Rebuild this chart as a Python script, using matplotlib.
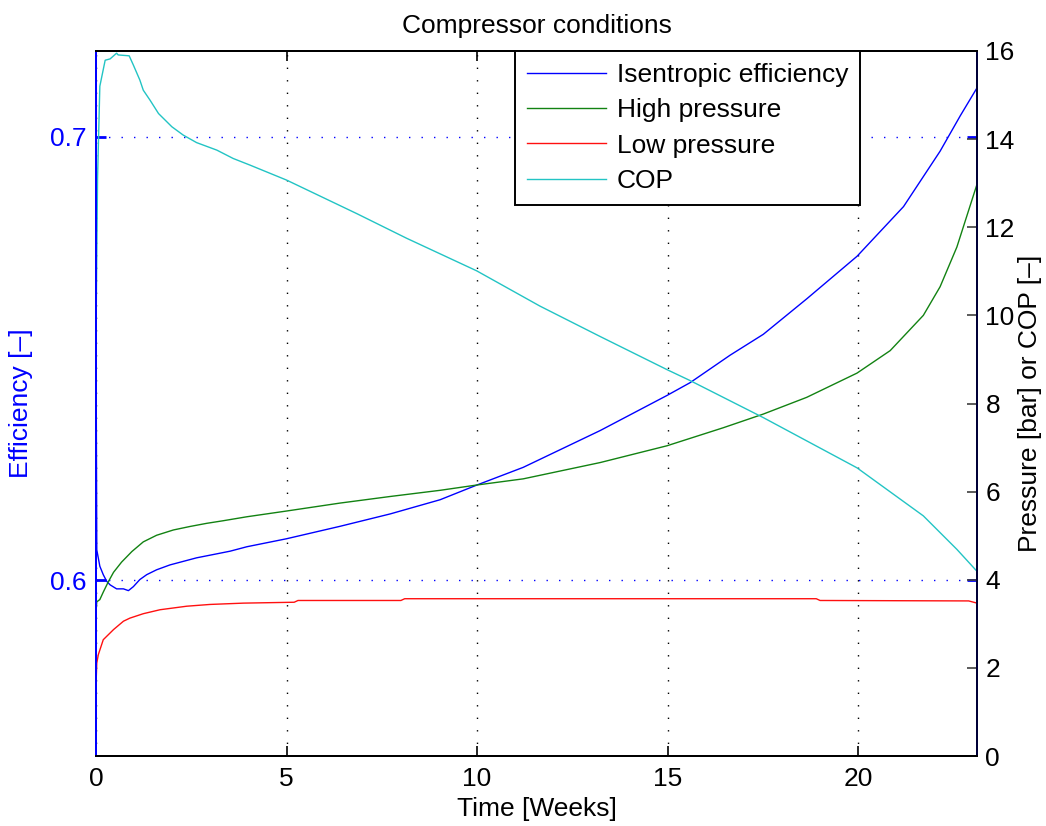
import matplotlib
matplotlib.use('Agg')
import matplotlib.pyplot as plt

plt.rcParams['font.family'] = ['Liberation Sans', 'DejaVu Sans']

# efficiency (left axis)
eff_t = [0, 0.02, 0.1, 0.19, 0.28, 0.37, 0.54, 0.72, 0.85, 0.98, 1.15, 1.33, 1.59, 1.94,
         2.29, 2.64, 3.17, 3.52, 3.96, 5.0, 6.4, 7.72, 9.03, 9.99, 11.21, 13.23, 14.98,
         15.59, 16.64, 17.51, 18.65, 19.97, 21.19, 22.15, 22.68, 23.12]
eff = [0.655, 0.6069, 0.6032, 0.6013, 0.5998, 0.599, 0.5981, 0.5981, 0.5977, 0.5986,
       0.6002, 0.6013, 0.6024, 0.6035, 0.6043, 0.6051, 0.606, 0.6066, 0.6076, 0.6094,
       0.6122, 0.615, 0.6182, 0.6215, 0.6255, 0.6338, 0.6417, 0.6446, 0.6508, 0.6555,
       0.6635, 0.6731, 0.6843, 0.6968, 0.7048, 0.7111]

# high pressure [bar]
hp_t = [0, 0.02, 0.1, 0.19, 0.32, 0.46, 0.67, 0.94, 1.24, 1.59, 2.03, 2.47, 2.9, 3.34,
        3.96, 5.0, 6.4, 7.72, 9.03, 9.99, 11.21, 13.23, 14.98, 16.46, 17.51, 18.65,
        19.97, 20.84, 21.71, 22.15, 22.59, 23.12]
hp = [3.28, 3.5, 3.55, 3.72, 3.95, 4.17, 4.4, 4.64, 4.86, 5.01, 5.13, 5.21, 5.28, 5.34,
      5.43, 5.56, 5.74, 5.89, 6.03, 6.15, 6.29, 6.66, 7.04, 7.45, 7.76, 8.14, 8.69,
      9.2, 10.0, 10.65, 11.55, 12.98]

# low pressure [bar]
lp_t = [0, 0.02, 0.06, 0.19, 0.46, 0.72, 0.89, 1.24, 1.68, 2.38, 2.99, 3.87, 5.2, 5.3,
        8.0, 8.1, 18.9, 19.0, 22.9, 23.12]
lp = [1.62, 2.11, 2.3, 2.64, 2.87, 3.06, 3.13, 3.23, 3.32, 3.4, 3.44, 3.47, 3.49, 3.53,
      3.53, 3.57, 3.57, 3.53, 3.52, 3.47]

# COP
cop_t = [0, 0.04, 0.1, 0.24, 0.37, 0.54, 0.58, 0.87, 0.98, 1.15, 1.24, 1.42, 1.64, 1.99,
         2.29, 2.64, 3.17, 3.6, 4.04, 5.0, 6.84, 8.15, 9.99, 11.65, 13.23, 14.98, 15.59,
         17.51, 19.97, 21.71, 22.59, 23.12]
cop = [9.6, 13.1, 15.2, 15.79, 15.82, 15.95, 15.91, 15.89, 15.68, 15.34, 15.11, 14.88,
       14.58, 14.28, 14.09, 13.92, 13.75, 13.56, 13.41, 13.07, 12.31, 11.75, 11.01, 10.21,
       9.52, 8.77, 8.52, 7.68, 6.54, 5.45, 4.69, 4.19]

fig = plt.figure(figsize=(10.46, 8.26), dpi=100)
ax1 = fig.add_axes([0.0918, 0.0847, 0.8423, 0.8536])
ax2 = ax1.twinx()

blue = '#0000ff'
green = '#128212'
red = '#ff1010'
cyan = '#22c4c4'
fs = 19
dots = (0, (1, 8))

h1, = ax1.plot(eff_t, eff, color=blue, lw=1.0)
h2, = ax2.plot(hp_t, hp, color=green, lw=1.0)
h3, = ax2.plot(lp_t, lp, color=red, lw=1.0)
h4, = ax2.plot(cop_t, cop, color=cyan, lw=1.0)

ax1.set_xlim(0, 23.12)
ax1.set_ylim(0.5604, 0.7194)
ax2.set_ylim(0, 16)
ax1.set_xticks([0, 5, 10, 15, 20])
ax1.set_yticks([0.6, 0.7])
ax1.set_yticklabels(['0.6', '0.7'])
ax2.set_yticks(range(0, 17, 2))

ax1.xaxis.grid(True, color='k', linestyle=dots, lw=1.0)
ax1.yaxis.grid(True, color=blue, linestyle=dots, lw=1.0)

ax1.tick_params(axis='x', direction='in', top=True, length=7, width=1.2,
                labelsize=fs, pad=8, colors='k')
ax1.tick_params(axis='y', direction='in', right=True, length=7, width=2,
                labelsize=fs, pad=7, colors=blue)
ax2.tick_params(axis='y', direction='in', length=7, width=1.2, labelsize=fs,
                pad=6, color='#404040', labelcolor='k')

for ax in (ax1, ax2):
    for s in ax.spines.values():
        s.set_linewidth(1.4)
    ax.spines['top'].set_color('k')
    ax.spines['bottom'].set_color('k')
ax1.spines['left'].set_color(blue)
ax2.spines['left'].set_color(blue)
ax2.spines['right'].set_color('#00003a')

ax1.set_xlabel('Time [Weeks]', fontsize=fs, labelpad=4)
ax1.set_ylabel('Efficiency [–]', fontsize=fs, color=blue)
ax1.yaxis.set_label_coords(-0.0715, 0.5)
ax2.set_ylabel('Pressure [bar] or COP [–]', fontsize=fs)
ax2.yaxis.set_label_coords(1.0465, 0.5)
ax1.set_title('Compressor conditions', fontsize=fs, pad=13)

leg = ax2.legend([h1, h2, h3, h4],
                 ['Isentropic efficiency', 'High pressure', 'Low pressure', 'COP'],
                 loc='upper right', bbox_to_anchor=(0.867, 1.0), borderaxespad=0,
                 fontsize=fs, fancybox=False, handlelength=3.0, handletextpad=0.4,
                 labelspacing=0.43, borderpad=0.45, framealpha=1)
leg.get_frame().set_edgecolor('k')
leg.get_frame().set_linewidth(1.4)

fig.savefig('out.png', dpi=100)
